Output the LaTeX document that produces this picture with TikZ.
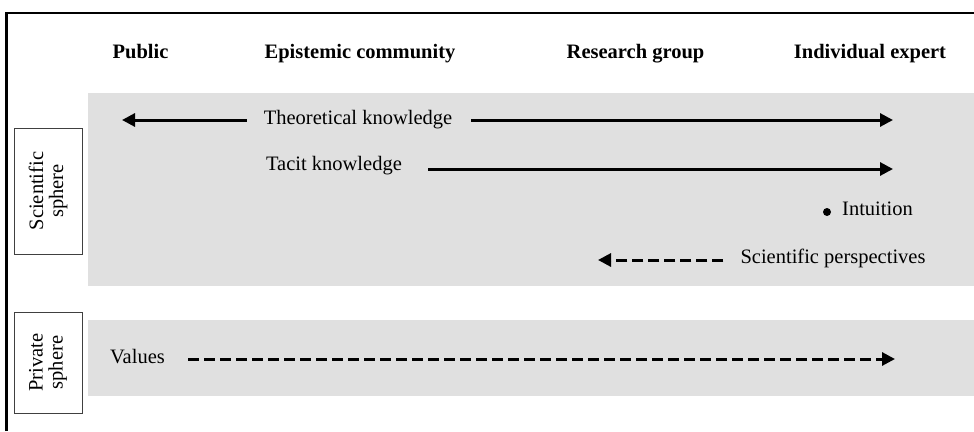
\documentclass[tikz,border=0pt]{standalone}
\usepackage{fontspec}
\setmainfont{Liberation Serif}
\usetikzlibrary{arrows.meta, positioning}
\definecolor{bandgray}{gray}{0.88}

\begin{document}
\begin{tikzpicture}[
    x=1pt, y=-1pt,
    % Text styles
    header/.style={
        font=\fontsize{20.5}{24}\selectfont\bfseries,
        anchor=base, inner sep=0pt,
      },
    itemtext/.style={
        font=\fontsize{20.5}{24}\selectfont,
        anchor=base, inner sep=0pt,
      },
    % Boxes on the left, turned on their side
    sphere box/.style={
        draw=black!75, line width=0.8pt, rotate=90,
        minimum height=68pt, inner sep=0pt, align=center,
        font=\fontsize{20.5}{20}\selectfont,
      },
    % Arrow styles
    flow/.style={
        line width=3pt, -{Triangle[length=13pt,width=13pt]},
      },
    dashed flow/.style={
        flow, dash pattern=on 11pt off 5pt,
      },
  ]
  \useasboundingbox (0,0) rectangle (974,431);

  % --- Frame and grey bands ---
  \draw[line width=2.5pt] (6.5,431) -- (6.5,13) -- (974,13);
  \fill[bandgray] (88,93) rectangle (974,286);
  \fill[bandgray] (88,320) rectangle (974,396);

  % --- Column headers ---
  \foreach \name/\x/\txt in {public/140.5/Public, community/360/Epistemic community,
      group/635.5/Research group, expert/870/Individual expert} {
      \node[header] (hd\name) at (\x,58) {\txt};
    }

  % --- Sphere labels ---
  \node[sphere box, minimum width=126pt] (scisphere) at (48,191) {Scientific\\sphere};
  \node[sphere box, minimum width=101pt] (privsphere) at (48,362.5) {Private\\sphere};

  % --- Scientific sphere ---
  \node[itemtext] (theory) at (358,124) {Theoretical knowledge};
  \coordinate (theoryL) at (122,120);
  \coordinate (theoryR) at (893,120);
  \draw[flow, shorten <=17pt] (theory.west |- theoryL) -- (theoryL);
  \draw[flow, shorten <=19pt] (theory.east |- theoryR) -- (theoryR);

  \node[itemtext] (tacit) at (334,170) {Tacit knowledge};
  \coordinate (tacitR) at (893,169);
  \draw[flow, shorten <=26pt] (tacit.east |- tacitR) -- (tacitR);

  \node[itemtext, anchor=base west] (intuition) at (842,215) {Intuition};
  \node[circle, fill, inner sep=0pt, minimum size=8pt] (dot) at (827,212) {};

  \node[itemtext] (persp) at (833,263) {Scientific perspectives};
  \coordinate (perspL) at (598,260);
  \draw[dashed flow, shorten <=17pt] (persp.west |- perspL) -- (perspL);

  % --- Private sphere ---
  \node[itemtext, anchor=base west] (values) at (110,363) {Values};
  \coordinate (valuesR) at (895,359);
  \draw[dashed flow, shorten <=23pt] (values.east |- valuesR) -- (valuesR);

\end{tikzpicture}
\end{document}
